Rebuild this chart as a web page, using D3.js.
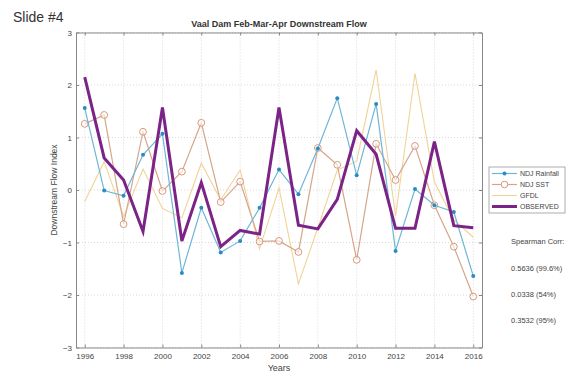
<!DOCTYPE html>
<meta charset="utf-8">
<style>
  body { margin: 0; background: #fff; }
  svg text { font-family: "Liberation Sans", Arial, sans-serif; }
</style>
<script src="https://d3js.org/d3.v7.min.js"></script>
<div id="chart"></div>
<script>
// data
const years = d3.range(1996, 2017);
const rainfall = [1.56, -0.01, -0.11, 0.67, 1.07, -1.58, -0.34, -1.19, -0.97, -0.34, 0.39,
                  -0.08, 0.79, 1.75, 0.28, 1.64, -1.16, 0.02, -0.29, -0.42, -1.64];
const sst      = [1.26, 1.43, -0.65, 1.11, -0.02, 0.35, 1.28, -0.23, 0.16, -0.98, -0.97,
                  -1.18, 0.8, 0.48, -1.33, 0.88, 0.19, 0.84, -0.29, -1.08, -2.03];
const gfdl     = [-0.22, 0.54, -0.51, 0.4, -0.35, -0.53, 0.51, -0.19, 0.38, -1.12, 0.04,
                  -1.79, -0.72, 0.38, 0.55, 2.29, -0.5, 2.22, 0.15, -0.57, -0.9];
const observed = [2.15, 0.61, 0.19, -0.79, 1.57, -0.97, 0.14, -1.08, -0.77, -0.84, 1.57,
                  -0.67, -0.74, -0.18, 1.13, 0.68, -0.73, -0.73, 0.92, -0.68, -0.72];
const xTicks = d3.range(1996, 2017, 2);
const yTicks = [-3, -2, -1, 0, 1, 2, 3];
const legendNames = ["NDJ Rainfall", "NDJ SST", "GFDL", "OBSERVED"];
const corrLines = ["Spearman Corr:", "0.5636 (99.6%)", "0.0338 (54%)", "0.3532 (95%)"];

const W = 578, H = 374;
const svg = d3.select("#chart").append("svg")
    .attr("width", W).attr("height", H);

const x = d3.scaleLinear().domain([1995.55, 2016.45]).range([76, 482]);
const y = d3.scaleLinear().domain([-3, 3]).range([347.5, 32.5]);

// "Slide #4"
svg.append("text").attr("x", 13).attr("y", 22)
    .attr("font-family", "Open Sans, sans-serif")
    .attr("font-size", 14).attr("fill", "#333").text("Slide #4");

// grid
const grid = svg.append("g").attr("stroke", "#cfcfcf").attr("stroke-dasharray", "1,2").attr("stroke-width", 0.8);
grid.selectAll(".gx").data(xTicks).enter().append("line")
    .attr("x1", d => x(d)).attr("x2", d => x(d)).attr("y1", y(-3)).attr("y2", y(3));
grid.selectAll(".gy").data(yTicks).enter().append("line")
    .attr("y1", d => y(d)).attr("y2", d => y(d)).attr("x1", x.range()[0]).attr("x2", x.range()[1]);

// axes
const xAxis = svg.append("g").attr("transform", `translate(0,${y(-3)})`)
    .call(d3.axisBottom(x).tickValues(xTicks).tickFormat(d3.format("d")).tickSize(-3).tickSizeOuter(0).tickPadding(6));
const yAxis = svg.append("g").attr("transform", `translate(${x.range()[0]},0)`)
    .call(d3.axisLeft(y).tickValues(yTicks).tickFormat(d3.format("d")).tickSize(-3).tickSizeOuter(0).tickPadding(4));
[xAxis, yAxis].forEach(a => {
  a.select(".domain").attr("stroke", "#888");
  a.selectAll(".tick line").attr("stroke", "#888");
  a.selectAll("text").attr("font-size", 8).attr("fill", "#444")
    .attr("font-family", "Liberation Sans, Arial, sans-serif");
});
// top and right box edges
svg.append("g").attr("transform", `translate(0,${y(3)})`)
    .call(d3.axisTop(x).tickValues(xTicks).tickSize(-3).tickSizeOuter(0).tickFormat(""))
    .call(g => g.selectAll("path,line").attr("stroke", "#888"));
svg.append("g").attr("transform", `translate(${x.range()[1]},0)`)
    .call(d3.axisRight(y).tickValues(yTicks).tickSize(-3).tickSizeOuter(0).tickFormat(""))
    .call(g => g.selectAll("path,line").attr("stroke", "#888"));

// titles
svg.append("text").attr("x", 279).attr("y", 27).attr("text-anchor", "middle")
    .attr("font-size", 9).attr("font-weight", "bold").attr("fill", "#333")
    .text("Vaal Dam Feb-Mar-Apr Downstream Flow");
svg.append("text").attr("x", 279).attr("y", 371).attr("text-anchor", "middle")
    .attr("font-size", 9).attr("fill", "#444").text("Years");
svg.append("text").attr("transform", `translate(57,${y(0)}) rotate(-90)`)
    .attr("text-anchor", "middle").attr("font-size", 8.5).attr("fill", "#444")
    .text("Downstream Flow Index");

const line = d3.line().x((d, i) => x(years[i])).y(d => y(d));

const series = [
  {name: legendNames[0], values: rainfall, color: "#6db6d6", width: 1.2, marker: "dot", mcolor: "#2a8cc0"},
  {name: legendNames[1], values: sst, color: "#d6a68c", width: 1.2, marker: "circle", mcolor: "#d28f6e"},
  {name: legendNames[2], values: gfdl, color: "#f0d396", width: 1.1, marker: null},
  {name: legendNames[3], values: observed, color: "#7b2387", width: 3, marker: null}
];

const plot = svg.append("g");
// draw order: GFDL, SST, Rainfall, Observed on top
[2, 1, 0, 3].forEach(k => {
  const s = series[k];
  plot.append("path").datum(s.values)
      .attr("fill", "none").attr("stroke", s.color).attr("stroke-width", s.width)
      .attr("stroke-linejoin", "miter").attr("d", line);
  if (s.marker === "dot") {
    plot.selectAll(null).data(s.values).enter().append("circle")
        .attr("cx", (d, i) => x(years[i])).attr("cy", d => y(d)).attr("r", 2)
        .attr("fill", s.mcolor);
  } else if (s.marker === "circle") {
    plot.selectAll(null).data(s.values).enter().append("circle")
        .attr("cx", (d, i) => x(years[i])).attr("cy", d => y(d)).attr("r", 3.4)
        .attr("fill", "#fff").attr("fill-opacity", 0.6).attr("stroke", s.mcolor).attr("stroke-width", 0.9);
  }
});

// legend
const lg = svg.append("g").attr("transform", "translate(489,167)");
lg.append("rect").attr("width", 76).attr("height", 46)
    .attr("fill", "#fff").attr("stroke", "#999").attr("stroke-width", 0.8);
series.forEach((s, i) => {
  const yy = 6.5 + i * 11;
  const g = lg.append("g").attr("transform", `translate(0,${yy})`);
  g.append("line").attr("x1", 3).attr("x2", 28).attr("stroke", s.color).attr("stroke-width", s.width);
  if (s.marker === "dot") g.append("circle").attr("cx", 15.5).attr("r", 2).attr("fill", s.mcolor);
  if (s.marker === "circle") g.append("circle").attr("cx", 15.5).attr("r", 3.3)
      .attr("fill", "#fff").attr("stroke", s.mcolor).attr("stroke-width", 0.9);
  g.append("text").attr("x", 31).attr("y", 2.6).attr("font-size", 7).attr("fill", "#444").text(s.name);
});

// spearman correlations
const corrY = [244, 271, 297, 323];
svg.selectAll(".corr").data(corrLines).enter().append("text")
    .attr("x", 511).attr("y", (d, i) => corrY[i])
    .attr("font-size", 7.5).attr("fill", "#444").text(d => d);
</script>
